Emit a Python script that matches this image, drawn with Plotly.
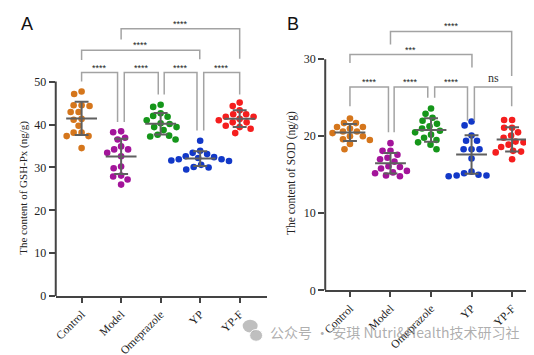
import numpy as np
import plotly.graph_objects as go

categories = ["Control", "Model", "Omeprazole", "YP", "YP-F"]
colors = ["#D5761C", "#A3149A", "#15961A", "#1238C8", "#F51E1E"]

gsh_control = [47.7, 47.1, 44.5, 44.5, 44.3, 42.9, 42.9, 41.3, 41.1, 39.7, 38.1, 38.1, 37.3, 37.3, 34.5]
gsh_model = [38.4, 38.2, 36.9, 36.5, 34.2, 34.2, 34.9, 33.4, 32.6, 30.2, 29.8, 27.9, 28.1, 27.2, 26.0]
gsh_omeprazole = [44.6, 44.1, 42.6, 42.0, 41.8, 41.0, 40.3, 40.1, 39.4, 39.4, 38.7, 37.6, 37.4, 37.2, 36.5]
gsh_yp = [36.2, 33.9, 33.4, 33.1, 32.6, 32.4, 32.2, 31.9, 31.9, 31.6, 31.5, 30.6, 30.1, 30.0, 29.5]
gsh_ypf = [45.1, 44.3, 43.3, 42.4, 42.4, 41.8, 41.8, 41.3, 41.0, 40.5, 40.5, 39.7, 39.4, 39.0, 38.0]

sod_control = [22.3, 21.7, 21.7, 21.2, 21.2, 21.0, 20.6, 20.6, 20.4, 20.0, 20.0, 19.6, 19.5, 19.0, 18.3]
sod_model = [19.1, 18.1, 18.1, 17.6, 17.2, 17.0, 16.7, 16.1, 16.0, 15.8, 15.5, 15.3, 15.2, 14.8, 14.9]
sod_omeprazole = [23.6, 22.9, 22.4, 22.0, 21.6, 21.3, 21.0, 20.7, 20.5, 20.2, 19.8, 19.5, 19.2, 18.9, 18.3]
sod_yp = [21.9, 21.4, 20.1, 19.4, 19.4, 18.3, 18.3, 18.3, 17.1, 15.4, 15.2, 15.0, 14.9, 14.9, 14.8]
sod_ypf = [22.1, 22.1, 21.1, 21.1, 20.5, 20.1, 19.8, 19.3, 19.2, 18.9, 18.6, 18.1, 18.0, 17.9, 17.0]

gsh_groups = [gsh_control, gsh_model, gsh_omeprazole, gsh_yp, gsh_ypf]
sod_groups = [sod_control, sod_model, sod_omeprazole, sod_yp, sod_ypf]

gsh_ticks = [0, 10, 20, 30, 40, 50]
sod_ticks = [0, 10, 20, 30]

# significance brackets: (x_left, x_right, y_line, y_left_end, y_right_end, label)
gsh_brackets = [
    (0.0, 0.91, 52.1, 50.0, 40.6, "****"),
    (1.08, 1.94, 52.1, 40.6, 47.0, "****"),
    (2.09, 2.92, 52.1, 47.0, 38.6, "****"),
    (3.09, 4.0, 52.1, 38.6, 47.0, "****"),
    (0.0, 2.99, 57.3, 55.0, 55.2, "****"),
    (1.0, 4.0, 62.3, 59.8, 55.3, "****"),
]
sod_brackets = [
    (0.0, 0.95, 26.4, 23.9, 20.5, "****"),
    (1.09, 1.92, 26.4, 20.5, 25.0, "****"),
    (2.09, 2.90, 26.4, 25.0, 22.0, "****"),
    (3.07, 3.99, 26.4, 22.0, 23.9, "ns"),
    (0.0, 3.01, 30.6, 29.5, 28.9, "***"),
    (1.0, 3.99, 33.6, 31.9, 27.8, "****"),
]

W, H = 534, 355
A_xdom = [45 / W, 257 / W]
B_xdom = [316 / W, 530 / W]
A_ydom = [(H - 294) / H, (H - 5) / H]
B_ydom = [(H - 288) / H, (H - 5) / H]
A_xr = [-0.654, 4.68]
B_xr = [-0.61, 4.64]
A_yr = [0, 66]
B_yr = [0, 36]


def swarm(vals, ppx, ppy, d=7.6, step=0.5):
    placed = []
    offs = [0.0] * len(vals)
    order = sorted(range(len(vals)), key=lambda i: -vals[i])
    cands = [0.0]
    for k in range(1, 80):
        cands += [-k * step, k * step]
    for i in order:
        y = vals[i] * ppy
        chosen = 0.0
        for c in cands:
            if all((c - px) ** 2 + (y - py) ** 2 >= d * d for px, py in placed):
                chosen = c
                break
        placed.append((chosen, y))
        offs[i] = chosen / ppx
    return offs


fig = go.Figure()


def add_panel(groups, xa, ya, xdom, xr, ydom, yr):
    ppx = (xdom[1] - xdom[0]) * W / (xr[1] - xr[0])
    ppy = (ydom[1] - ydom[0]) * H / (yr[1] - yr[0])
    ex, ey = [], []
    for i, vals in enumerate(groups):
        offs = swarm(vals, ppx, ppy)
        fig.add_trace(go.Scatter(
            x=[i + o for o in offs], y=vals, mode="markers",
            marker=dict(size=6.6, color=colors[i], line=dict(width=0)),
            xaxis=xa, yaxis=ya, showlegend=False, hoverinfo="y"))
        m = float(np.mean(vals))
        s = float(np.std(vals, ddof=1))
        hw = 15.5 / ppx
        cw = 7.0 / ppx
        ex += [i - hw, i + hw, None, i, i, None, i - cw, i + cw, None, i - cw, i + cw, None]
        ey += [m, m, None, m - s, m + s, None, m + s, m + s, None, m - s, m - s, None]
    fig.add_trace(go.Scatter(x=ex, y=ey, mode="lines",
                             line=dict(color="#5f5f5f", width=2),
                             xaxis=xa, yaxis=ya, showlegend=False, hoverinfo="skip"))


add_panel(gsh_groups, "x", "y", A_xdom, A_xr, A_ydom, A_yr)
add_panel(sod_groups, "x2", "y2", B_xdom, B_xr, B_ydom, B_yr)

shapes = []
annotations = []


def add_brackets(brs, xref, yref):
    for (x0, x1, yl, y0e, y1e, lab) in brs:
        shapes.append(dict(type="path", xref=xref, yref=yref,
                           path=f"M {x0},{y0e} L {x0},{yl} L {x1},{yl} L {x1},{y1e}",
                           line=dict(color="#a3a3a3", width=1.5)))
        if lab == "ns":
            annotations.append(dict(x=(x0 + x1) / 2, y=yl, xref=xref, yref=yref,
                                    text=lab, showarrow=False, yanchor="bottom", yshift=0,
                                    font=dict(family="Liberation Serif", size=12, color="#333333")))
        else:
            annotations.append(dict(x=(x0 + x1) / 2, y=yl, xref=xref, yref=yref,
                                    text=lab, showarrow=False, yanchor="middle", yshift=5,
                                    font=dict(family="Liberation Sans", size=9, color="#222222")))


add_brackets(gsh_brackets, "x", "y")
add_brackets(sod_brackets, "x2", "y2")

shapes.append(dict(type="line", xref="x domain", yref="y", x0=0, x1=0, y0=0, y1=gsh_ticks[-1],
                   line=dict(color="#444444", width=2)))
shapes.append(dict(type="line", xref="x2 domain", yref="y2", x0=0, x1=0, y0=0, y1=sod_ticks[-1],
                   line=dict(color="#444444", width=2)))

shapes.append(dict(type="circle", xref="paper", yref="paper",
                   x0=233 / W, x1=248 / W, y0=(H - 331) / H, y1=(H - 318) / H,
                   fillcolor="rgba(170,170,170,0.75)", line=dict(width=0)))
shapes.append(dict(type="circle", xref="paper", yref="paper",
                   x0=240 / W, x1=253 / W, y0=(H - 340) / H, y1=(H - 328) / H,
                   fillcolor="rgba(170,170,170,0.75)", line=dict(color="white", width=1)))

annotations += [
    dict(x=8 / W, y=(H - 4) / H, xref="paper", yref="paper", text="A", showarrow=False,
         xanchor="left", yanchor="top", font=dict(family="Liberation Sans", size=18, color="#111")),
    dict(x=276 / W, y=(H - 4) / H, xref="paper", yref="paper", text="B", showarrow=False,
         xanchor="left", yanchor="top", font=dict(family="Liberation Sans", size=18, color="#111")),
    dict(x=12.5 / W, y=(H - 183) / H, xref="paper", yref="paper", text="The content of GSH-Px (ng/g)",
         textangle=-90, showarrow=False, xanchor="center", yanchor="middle",
         font=dict(family="Liberation Serif", size=11, color="#222")),
    dict(x=282 / W, y=(H - 168) / H, xref="paper", yref="paper", text="The content of SOD (ng/g)",
         textangle=-90, showarrow=False, xanchor="center", yanchor="middle",
         font=dict(family="Liberation Serif", size=11.5, color="#222")),
    dict(x=258 / W, y=(H - 331) / H, xref="paper", yref="paper",
         text="公众号 · 安琪 Nutri&Health技术研习社", showarrow=False,
         xanchor="left", yanchor="middle",
         font=dict(family="Noto Sans CJK SC", size=14, color="rgba(140,140,140,0.7)")),
]

axis_font = dict(family="Liberation Serif", size=12, color="#222")
xtick_font = dict(family="Liberation Serif", size=11.5, color="#222")
common_x = dict(tickmode="array", tickvals=list(range(5)), ticktext=categories, tickangle=-45,
                showline=True, linecolor="#444444", linewidth=2, ticks="outside", ticklen=5,
                tickwidth=2, tickcolor="#444444", showgrid=False, zeroline=False,
                tickfont=xtick_font, fixedrange=True)
common_y = dict(showline=False, ticks="outside", ticklen=6, tickwidth=2, tickcolor="#444444",
                showgrid=False, zeroline=False, tickfont=axis_font, fixedrange=True)

fig.update_layout(
    width=W, height=H, margin=dict(l=0, r=0, t=0, b=0),
    paper_bgcolor="white", plot_bgcolor="rgba(0,0,0,0)",
    xaxis=dict(domain=A_xdom, range=A_xr, anchor="y", **common_x),
    yaxis=dict(domain=A_ydom, range=A_yr, anchor="x", tickvals=gsh_ticks, **common_y),
    xaxis2=dict(domain=B_xdom, range=B_xr, anchor="y2", **common_x),
    yaxis2=dict(domain=B_ydom, range=B_yr, anchor="x2", tickvals=sod_ticks, **common_y),
    shapes=shapes, annotations=annotations,
)

fig.write_html("out.html")
